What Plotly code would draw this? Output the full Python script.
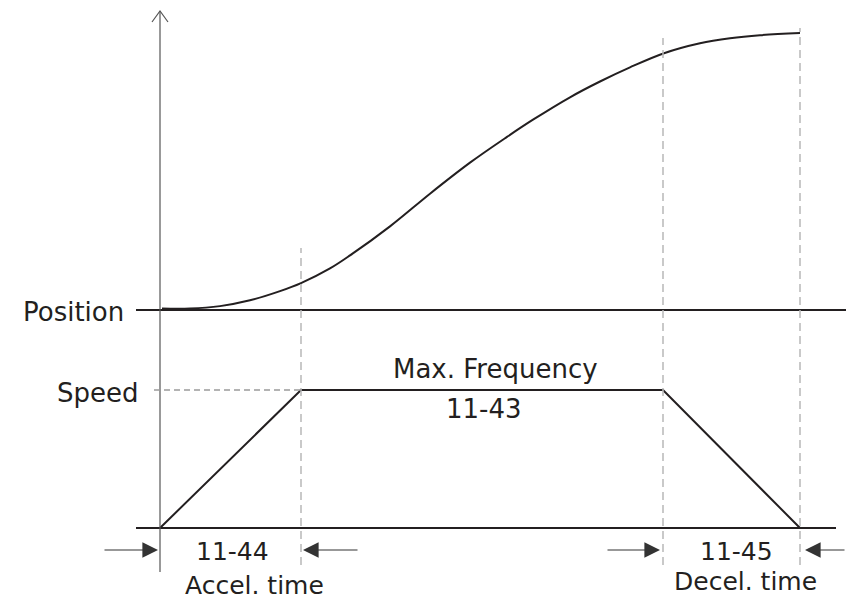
import plotly.graph_objects as go

# time axis (arbitrary units): start, end of accel, start of decel, stop
phase_times = [0, 141, 503, 640]
speed_values = [0, 1, 1, 0]

# position (normalised)
pos_times = [2, 30, 60, 90, 120, 141, 170, 190, 230, 270, 310, 347, 373,
             410, 440, 470, 504, 540, 570, 600, 640]
pos_values = [0.005, 0.005, 0.014, 0.035, 0.068, 0.097, 0.150, 0.197, 0.302,
              0.420, 0.532, 0.625, 0.687, 0.768, 0.825, 0.876, 0.927, 0.963,
              0.981, 0.992, 1.0]

labels_left = ["Position", "Speed"]
max_freq_label = "Max. Frequency"
max_freq_param = "11-43"
accel_param, accel_label = "11-44", "Accel. time"
decel_param, decel_label = "11-45", "Decel. time"

W, H = 846, 602
INK = "#231f20"
DASH = "#b8b8b8"
FONT = "DejaVu Sans"


def py(p):
    """pixel row -> paper y"""
    return 1 - p / H


fig = go.Figure()

# speed trapezoid
fig.add_trace(go.Scatter(
    x=phase_times, y=speed_values, mode="lines",
    line=dict(color=INK, width=2), yaxis="y", hoverinfo="skip"
))

# position S-curve
fig.add_trace(go.Scatter(
    x=pos_times, y=pos_values, mode="lines",
    line=dict(color=INK, width=2, shape="spline", smoothing=1.0),
    yaxis="y2", hoverinfo="skip"
))

shapes = []
# baselines
shapes.append(dict(type="line", xref="x", yref="y2", x0=-24, x1=686, y0=0, y1=0,
                   line=dict(color=INK, width=2)))
shapes.append(dict(type="line", xref="x", yref="y", x0=-24, x1=676, y0=0, y1=0,
                   line=dict(color=INK, width=2)))
# vertical axis with open arrow head
shapes.append(dict(type="line", xref="x", yref="paper", x0=0, x1=0, y0=py(572), y1=py(11),
                   line=dict(color="#555555", width=1.2)))
shapes.append(dict(type="path", xref="x", yref="paper",
                   path=f"M -8,{py(22)} L 0,{py(11)} L 8,{py(22)}",
                   line=dict(color="#555555", width=1.2)))
# speed level dashed guide
shapes.append(dict(type="line", xref="x", yref="y", x0=-6, x1=phase_times[1],
                   y0=speed_values[1], y1=speed_values[1],
                   line=dict(color="#9a9a9a", width=1.5, dash="6px,4px")))
# vertical dashed guides
for t, top in zip(phase_times[1:], [248, 38, 28]):
    shapes.append(dict(type="line", xref="x", yref="paper", x0=t, x1=t,
                       y0=py(565), y1=py(top),
                       line=dict(color=DASH, width=1.5, dash="8px,5px")))

ann = []
txt = dict(showarrow=False, font=dict(family=FONT, size=26, color=INK))
ann.append(dict(text=labels_left[0], xref="paper", yref="paper", x=126 / W, y=py(312),
                xanchor="right", yanchor="middle", **txt))
ann.append(dict(text=labels_left[1], xref="paper", yref="paper", x=141 / W, y=py(393),
                xanchor="right", yanchor="middle", **txt))
ann.append(dict(text=max_freq_label, xref="paper", yref="paper", x=496 / W, y=py(369),
                xanchor="center", yanchor="middle", **txt))
ann.append(dict(text=max_freq_param, xref="paper", yref="paper", x=484 / W, y=py(409),
                xanchor="center", yanchor="middle", **txt))
small = dict(showarrow=False, font=dict(family=FONT, size=25, color=INK))
ann.append(dict(text=accel_param, xref="paper", yref="paper", x=232 / W, y=py(551),
                xanchor="center", yanchor="middle", **small))
ann.append(dict(text=accel_label, xref="paper", yref="paper", x=254 / W, y=py(585),
                xanchor="center", yanchor="middle", **small))
ann.append(dict(text=decel_param, xref="paper", yref="paper", x=736 / W, y=py(551),
                xanchor="center", yanchor="middle", **small))
ann.append(dict(text=decel_label, xref="paper", yref="paper", x=745 / W, y=py(581),
                xanchor="center", yanchor="middle", **small))

# dimension arrows for accel / decel time
arr = dict(text="", showarrow=True, arrowhead=2, arrowsize=2.6, arrowwidth=1.2,
           arrowcolor="#333333", xref="x", yref="paper", axref="x", ayref="pixel", ay=0)
for tip, tail in [(phase_times[0] - 2, phase_times[0] - 57),
                  (phase_times[1] + 2, phase_times[1] + 58),
                  (phase_times[2] - 3, phase_times[2] - 57),
                  (phase_times[3] + 5, phase_times[3] + 46)]:
    ann.append(dict(x=tip, y=py(550), ax=tail, **arr))

fig.update_layout(
    width=W, height=H,
    margin=dict(l=0, r=0, t=0, b=0),
    paper_bgcolor="white", plot_bgcolor="white",
    showlegend=False,
    xaxis=dict(range=[-160, 686], visible=False, fixedrange=True),
    yaxis=dict(range=[-74 / 138, 528 / 138], visible=False, fixedrange=True),
    yaxis2=dict(range=[-292 / 277, 310 / 277], overlaying="y", visible=False,
                fixedrange=True),
    shapes=shapes,
    annotations=ann,
)

# drop the browser's default body margin so the figure sits at 0,0
fig.write_html("out.html", config={"displayModeBar": False},
               post_script="document.body.style.margin='0';")
